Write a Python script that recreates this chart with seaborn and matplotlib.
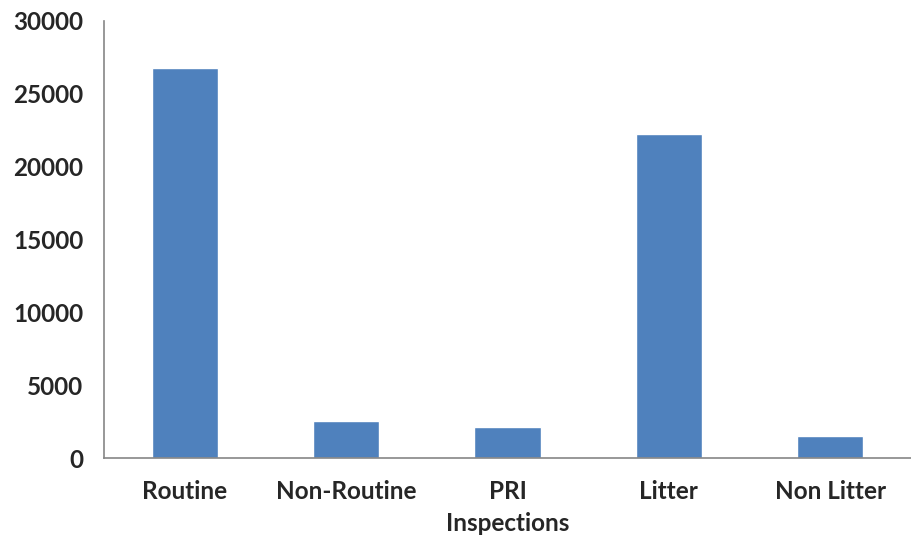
"""
Inspections bar chart, Excel-style look.
"""

import matplotlib

matplotlib.use("Agg")
import matplotlib.pyplot as plt
import numpy as np
import pandas as pd
import seaborn as sns

# data
categories = ["Routine", "Non-Routine", "PRI", "Litter", "Non Litter"]
counts = [26800, 2550, 2150, 22250, 1520]
y_ticks = [0, 5000, 10000, 15000, 20000, 25000, 30000]

BAR_COLOR = "#4F81BD"
AXIS_COLOR = "#868686"
FONT_SIZE = 17.5

sns.set_style("white")
plt.rcParams["font.family"] = ["Lato", "DejaVu Sans"]

df = pd.DataFrame({"category": categories, "count": counts})

fig = plt.figure(figsize=(9.11, 5.37), dpi=100)
ax = fig.add_axes([104 / 911, 1 - 458 / 537, 1 - 104 / 911, (458 - 21) / 537])

sns.barplot(data=df, x="category", y="count", color=BAR_COLOR,
            saturation=1, width=0.41, ax=ax)

ax.set_ylim(0, 30000)
ax.set_xlim(-0.5, 4.375)
ax.set_yticks(y_ticks)
ax.set_yticklabels([str(t) for t in y_ticks], fontsize=FONT_SIZE, fontweight="bold")
ax.set_xticklabels(categories, fontsize=FONT_SIZE, fontweight="bold")

# Excel puts the x ticks between categories
ax.set_xticks(np.arange(-0.5, len(categories), 1.0), minor=True)
ax.tick_params(axis="x", which="major", length=0, pad=16)
ax.tick_params(axis="x", which="minor", length=7, color=AXIS_COLOR, width=1.2, direction="out")
ax.tick_params(axis="y", length=7, color=AXIS_COLOR, width=1.2, direction="out", pad=8)

ax.set_xlabel("Inspections", fontsize=FONT_SIZE, fontweight="bold", labelpad=6)
ax.set_ylabel("")

sns.despine(ax=ax, top=True, right=True)
for side in ["left", "bottom"]:
    ax.spines[side].set_color(AXIS_COLOR)
    ax.spines[side].set_linewidth(1.2)

fig.savefig("out.png", dpi=100)
